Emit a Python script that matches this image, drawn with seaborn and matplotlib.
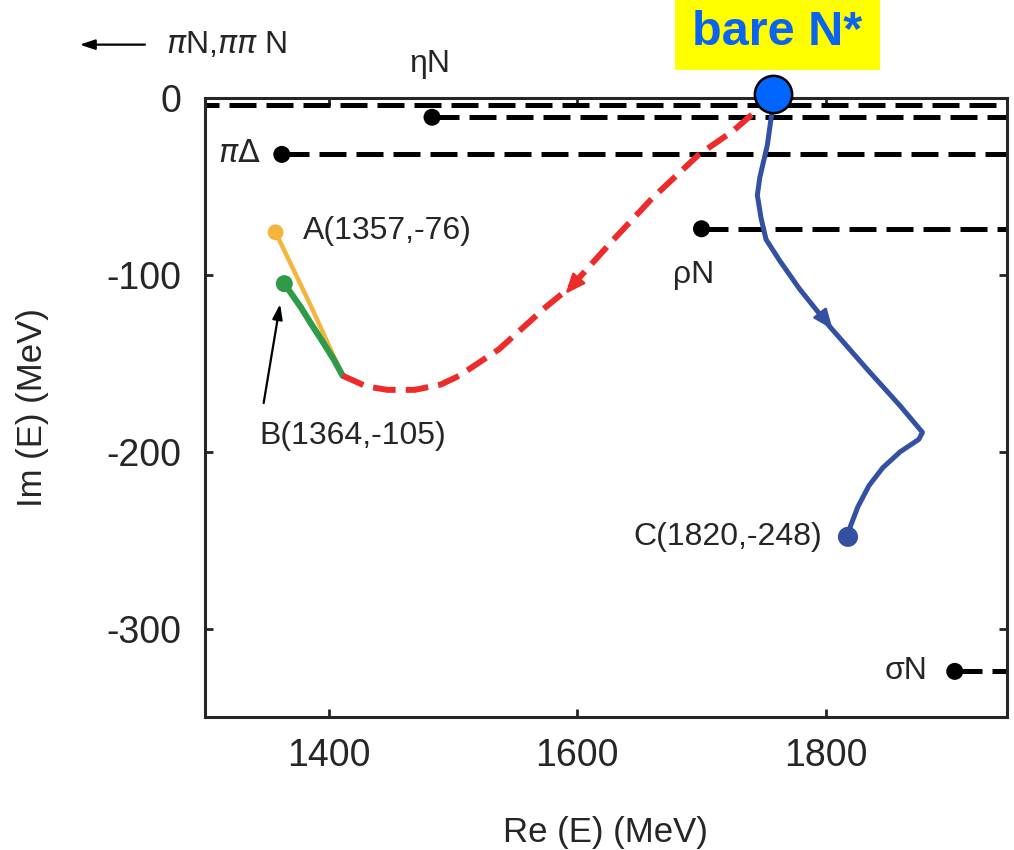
import matplotlib
matplotlib.use('Agg')
import matplotlib.pyplot as plt
from matplotlib.patches import Rectangle
import seaborn as sns

# thresholds: (Re, Im) where the dashed line starts, in MeV
thr_labels = ['ηN', '$\\pi\\Delta$', 'ρN', 'σN']
thr_re = [1483, 1362, 1700, 1904]
thr_im = [-11, -32, -74, -324]
piN_im = -4

# bare pole
bare_re, bare_im = 1758, 0

# pole trajectories
red_re = [1411, 1430, 1447, 1469, 1490, 1505, 1537, 1575, 1596, 1628, 1660, 1698, 1725, 1748]
red_im = [-157, -163, -165, -165, -162, -157, -142, -118, -106, -81, -57, -32, -19, -5]

green_re = [1364, 1369, 1377, 1385, 1396, 1404, 1411]
green_im = [-105, -110, -118, -127, -139, -148, -157]

orange_re = [1357, 1385, 1411]
orange_im = [-76, -117, -157]

blue_re = [1758, 1757, 1753, 1747, 1745, 1748, 1752, 1763, 1779, 1803, 1833, 1860,
           1878, 1875, 1860, 1846, 1835, 1826, 1820, 1818]
blue_im = [0, -7, -27, -45, -55, -68, -80, -92, -108, -129, -153, -174,
           -189, -193, -200, -209, -219, -231, -242, -248]

poles = ['A(1357,-76)', 'B(1364,-105)', 'C(1820,-248)']
pole_re = [1357, 1364, 1818]
pole_im = [-76, -105, -248]

c_red = '#ee2b2b'
c_green = '#2f9a48'
c_orange = '#f5b43c'
c_blue = '#3450a3'

sns.set_style('ticks')
plt.rcParams['font.family'] = ['Liberation Sans', 'DejaVu Sans']
plt.rcParams['axes.unicode_minus'] = False

fig, ax = plt.subplots(figsize=(10.14, 8.5), dpi=100)
fig.subplots_adjust(left=0.202, right=0.993, bottom=0.156, top=0.885)

thr_dash = (0, (5.4, 2.0))
sns.lineplot(x=[1290, 1960], y=[piN_im, piN_im], color='black', lw=3.6,
             ls=thr_dash, ax=ax)
for r, i in zip(thr_re, thr_im):
    sns.lineplot(x=[r, 1960], y=[i, i], color='black', lw=3.6, ls=thr_dash, ax=ax)
sns.scatterplot(x=thr_re, y=thr_im, color='black', s=150, edgecolor='none',
                zorder=4, ax=ax)

sns.lineplot(x=orange_re, y=orange_im, sort=False, estimator=None,
             color=c_orange, lw=3.2, ax=ax)
sns.lineplot(x=green_re, y=green_im, sort=False, estimator=None,
             color=c_green, lw=4.5, ax=ax)
sns.lineplot(x=red_re, y=red_im, sort=False, estimator=None,
             color=c_red, lw=4.3, ls=(0, (3.8, 1.7)), ax=ax)
sns.lineplot(x=blue_re, y=blue_im, sort=False, estimator=None,
             color=c_blue, lw=3.6, ax=ax)

sns.scatterplot(x=pole_re[:1], y=pole_im[:1], color=c_orange, s=130,
                edgecolor='none', zorder=5, ax=ax)
sns.scatterplot(x=pole_re[1:2], y=pole_im[1:2], color=c_green, s=150,
                edgecolor='none', zorder=5, ax=ax)
sns.scatterplot(x=pole_re[2:], y=pole_im[2:], color=c_blue, s=210,
                edgecolor='none', zorder=5, ax=ax)

# direction arrows on the trajectories
ax.annotate('', xy=(1589, -112), xytext=(1600, -103),
            arrowprops=dict(arrowstyle='-|>,head_length=1.2,head_width=0.5',
                            color=c_red, lw=2))
ax.annotate('', xy=(1807, -132), xytext=(1797, -123),
            arrowprops=dict(arrowstyle='-|>,head_length=1.2,head_width=0.5',
                            color=c_blue, lw=2))

# bare N*
ax.scatter([bare_re], [bare_im + 2], s=720, color='#0066ff', edgecolor='black',
           linewidth=1.8, zorder=10, clip_on=False)
fig.patches.append(Rectangle((675 / 1014, 1 - 70 / 850), 205 / 1014, 80 / 850,
                             transform=fig.transFigure, facecolor='#ffff00',
                             edgecolor='none', zorder=0))
fig.text(777 / 1014, 1 - 45 / 850, 'bare N*', color='#0a64f0', fontsize=35,
         fontweight='bold', ha='center', va='baseline')

# labels
fs = 23
ax.text(1481, 19, thr_labels[0], fontsize=fs, ha='center', va='center')
ax.text(1345, -32, thr_labels[1], fontsize=fs, ha='right', va='center')
ax.text(1694, -100, thr_labels[2], fontsize=fs, ha='center', va='center')
ax.text(1882, -324, thr_labels[3], fontsize=fs, ha='right', va='center')
ax.text(1379, -75, poles[0], fontsize=fs, ha='left', va='center')
ax.text(1419, -191, poles[1], fontsize=fs, ha='center', va='center')
ax.text(1797, -248, poles[2], fontsize=fs, ha='right', va='center')
ax.annotate('', xy=(1361, -115), xytext=(1347, -174),
            arrowprops=dict(arrowstyle='-|>,head_length=0.9,head_width=0.3',
                            color='black', lw=1.6), annotation_clip=False)
ax.annotate('', xy=(1197, 30), xytext=(1254, 30),
            arrowprops=dict(arrowstyle='-|>,head_length=0.9,head_width=0.3',
                            color='black', lw=1.6), annotation_clip=False)
ax.text(1269, 30, '$\\pi$N,$\\pi\\pi$ N', fontsize=fs, ha='left', va='center')

ax.set_xlim(1300, 1946)
ax.set_ylim(-350, 0)
ax.set_xticks([1400, 1600, 1800])
ax.set_yticks([0, -100, -200, -300])
ax.tick_params(direction='in', length=6, width=2, top=True, right=True,
               labelsize=27)
ax.tick_params(axis='x', pad=15)
ax.tick_params(axis='y', pad=17)
for sp in ax.spines.values():
    sp.set_linewidth(2.2)
    sp.set_zorder(6)

ax.set_xlabel('Re (E) (MeV)', fontsize=25, labelpad=30)
ax.set_ylabel('Im (E) (MeV)', fontsize=25)
ax.yaxis.set_label_coords(-0.194, 0.5)

fig.savefig('out.png', dpi=100)
